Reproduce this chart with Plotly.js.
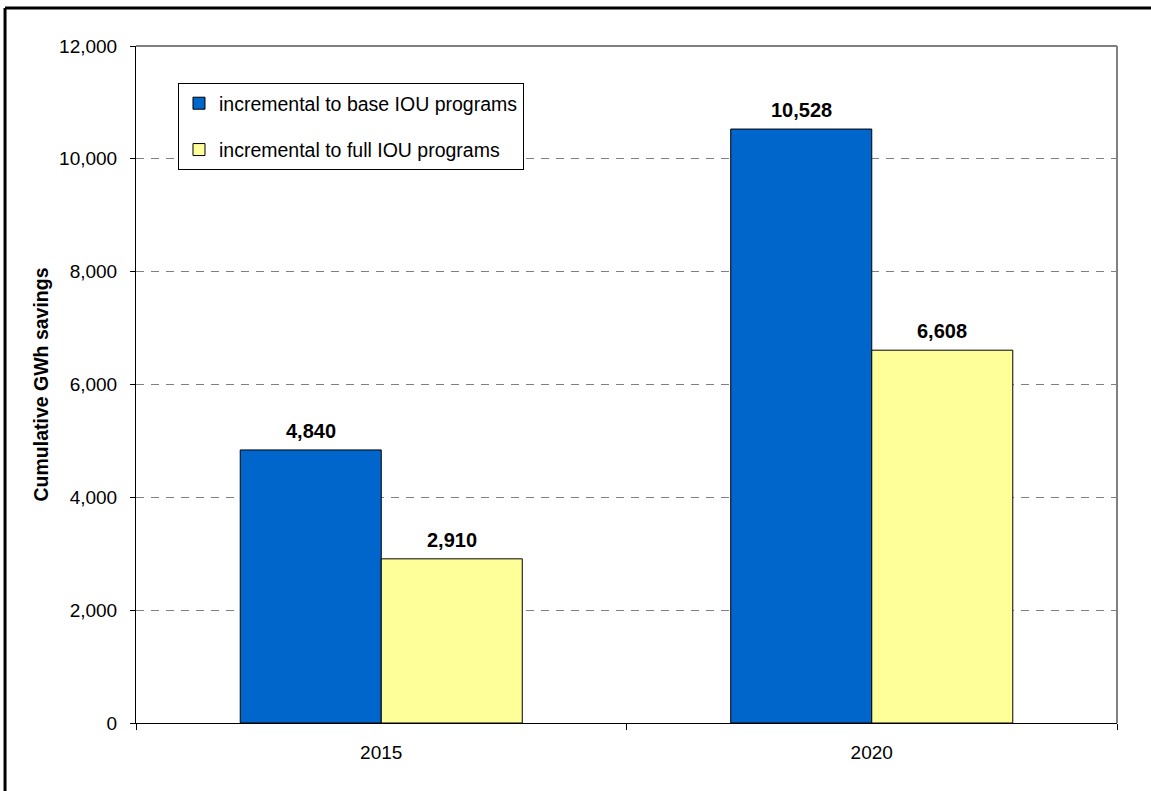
<!DOCTYPE html>
<html>
<head>
<meta charset="utf-8">
<script src="https://cdn.plot.ly/plotly-3.0.1.min.js"></script>
<style>html,body{margin:0;padding:0;background:#fff;}#chart{width:1151px;height:791px;}</style>
</head>
<body>
<div id="chart"></div>
<script>
const categories = ['2015', '2020'];
const seriesNames = ['incremental to base IOU programs', 'incremental to full IOU programs'];
const baseValues = [4840, 10528];
const fullValues = [2910, 6608];
const yTickValues = [0, 2000, 4000, 6000, 8000, 10000, 12000];

const FONT = 'Arial, "Liberation Sans", Helvetica, sans-serif';
const bargap = 0.425;
const colors = ['#0066CC', '#FFFF99'];
const seriesValues = [baseValues, fullValues];

const traces = seriesValues.map((vals, j) => ({
  type: 'bar',
  name: seriesNames[j],
  x: categories,
  y: vals,
  legendgroup: 'g' + j,
  marker: {color: colors[j], line: {color: '#000000', width: 1}},
  hoverinfo: 'x+y'
}));

const annotations = [];
seriesValues.forEach((vals, j) => {
  vals.forEach((v, i) => {
    annotations.push({
      x: i + (j - 0.5) * (1 - bargap) / 2,
      y: v,
      xref: 'x', yref: 'y',
      text: '<b>' + v.toLocaleString('en-US') + '</b>',
      showarrow: false,
      yanchor: 'bottom',
      yshift: 6,
      font: {family: FONT, size: 20, color: '#000000'}
    });
  });
});

const layout = {
  width: 1151, height: 791,
  margin: {l: 136, r: 34, t: 46, b: 68, pad: 0},
  paper_bgcolor: '#ffffff',
  plot_bgcolor: '#ffffff',
  barmode: 'group',
  bargap: bargap,
  bargroupgap: 0,
  font: {family: FONT, size: 19, color: '#000000'},
  showlegend: true,
  legend: {
    x: 0.0428, y: 0.9453, xanchor: 'left', yanchor: 'top',
    bgcolor: '#ffffff', bordercolor: '#000000', borderwidth: 1,
    font: {family: FONT, size: 19.5, color: '#000000'},
    itemwidth: 30,
    entrywidth: 310,
    tracegroupgap: 18,
    traceorder: 'grouped'
  },
  xaxis: {
    type: 'category',
    showline: true, linecolor: '#000000', linewidth: 1,
    ticks: 'outside', ticklen: 6, tickcolor: '#000000', tickwidth: 1,
    tickson: 'boundaries',
    ticklabelstandoff: 12,
    showgrid: false, zeroline: false,
    tickfont: {family: FONT, size: 19, color: '#000000'},
    range: [-0.5, 1.5],
    fixedrange: true
  },
  yaxis: {
    range: [0, 12000],
    tickvals: yTickValues,
    ticktext: yTickValues.map(v => v.toLocaleString('en-US')),
    showline: true, linecolor: '#000000', linewidth: 1,
    ticks: 'outside', ticklen: 5, tickcolor: '#000000', tickwidth: 1,
    ticklabelstandoff: 9,
    showgrid: true, gridcolor: '#808080', gridwidth: 1, griddash: '8px,7px',
    zeroline: false,
    tickfont: {family: FONT, size: 19, color: '#000000'},
    title: {text: '<b>Cumulative GWh savings</b>', font: {family: FONT, size: 19.5, color: '#000000'}, standoff: 5},
    automargin: false,
    fixedrange: true
  },
  shapes: [
    {type: 'line', xref: 'paper', yref: 'paper', x0: 0, x1: 1, y0: 1, y1: 1, line: {color: '#000000', width: 1}},
    {type: 'line', xref: 'paper', yref: 'paper', x0: 1, x1: 1, y0: 0, y1: 1, line: {color: '#808080', width: 2}},
    {type: 'line', xref: 'paper', yref: 'paper', x0: -0.1335, x1: -0.1335, y0: -0.11, y1: 1.0561, line: {color: '#000000', width: 3}},
    {type: 'line', xref: 'paper', yref: 'paper', x0: -0.1335, x1: 1.04, y0: 1.0561, y1: 1.0561, line: {color: '#000000', width: 3}}
  ],
  annotations: annotations
};

Plotly.newPlot('chart', traces, layout, {displayModeBar: false, staticPlot: true});
</script>
</body>
</html>
